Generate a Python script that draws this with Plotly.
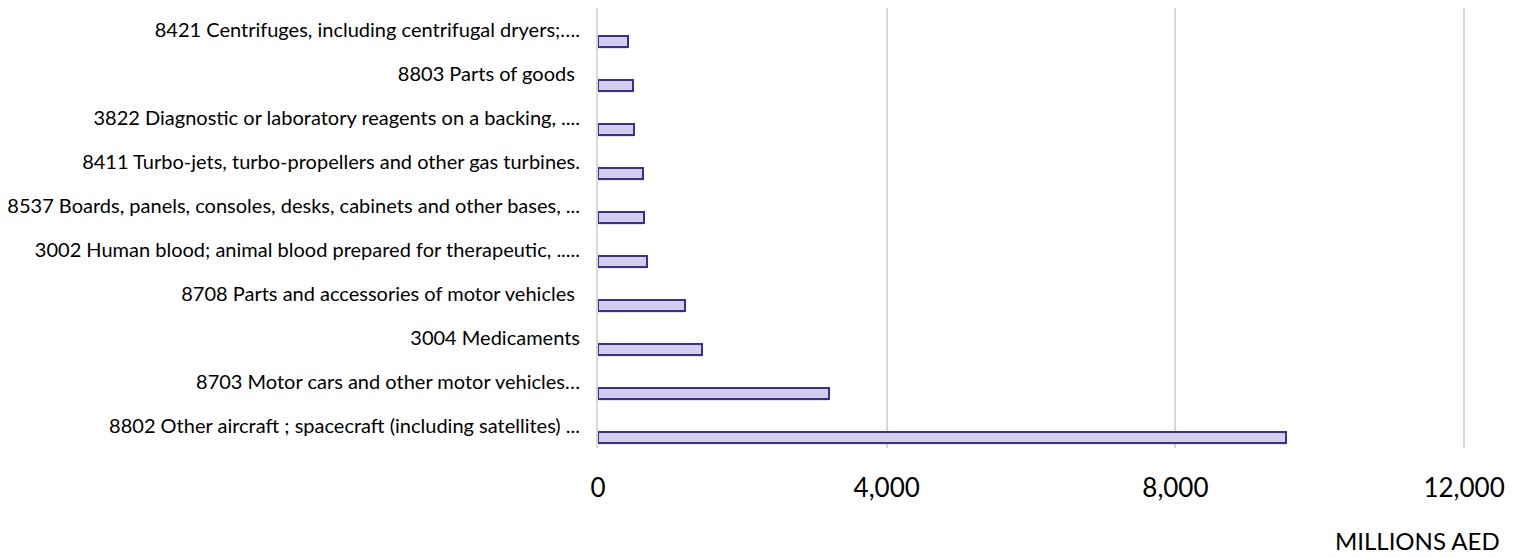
import plotly.graph_objects as go

categories = [
    "8802 Other aircraft ; spacecraft (including satellites) ...",
    "8703 Motor cars and other motor vehicles…",
    "3004 Medicaments",
    "8708 Parts and accessories of motor vehicles ",
    "3002 Human blood; animal blood prepared for therapeutic, .....",
    "8537 Boards, panels, consoles, desks, cabinets and other bases, ...",
    "8411 Turbo-jets, turbo-propellers and other gas turbines.",
    "3822 Diagnostic or laboratory reagents on a backing, ....",
    "8803 Parts of goods ",
    "8421 Centrifuges, including centrifugal dryers;….",
]
values = [9530, 3200, 1435, 1205, 679, 641, 623, 499, 481, 416]
tick_vals = [0, 4000, 8000, 12000]
tick_text = ["0", "4,000", "8,000", "12,000"]
axis_title = "MILLIONS AED"

fig = go.Figure()
# soft shadow under each bar
fig.add_trace(go.Bar(
    y=categories, x=values, orientation="h",
    width=0.27, offset=-0.44,
    marker=dict(color="rgba(0,0,0,0.10)", line=dict(width=0)),
    hoverinfo="skip", showlegend=False,
))
fig.add_trace(go.Bar(
    y=categories, x=values, orientation="h",
    width=0.265, offset=-0.395,
    marker=dict(color="#d3cdef", line=dict(color="#3e3089", width=2)),
    showlegend=False,
))

fig.update_layout(
    width=1505, height=550,
    margin=dict(l=590, r=46, t=0, b=110),
    paper_bgcolor="white", plot_bgcolor="white",
    font=dict(family="Lato, Calibri, sans-serif", color="#000000"),
    barmode="overlay",
    bargap=0,
    xaxis=dict(
        range=[0, 12040], tickvals=tick_vals, ticktext=tick_text,
        showgrid=True, gridcolor="#d9d9d9", gridwidth=1.5,
        zeroline=False, showline=False, ticks="",
        tickfont=dict(size=26, color="#000000"),
        ticklabelstandoff=22,
    ),
    yaxis=dict(
        range=[-0.5, 9.5], showgrid=False, zeroline=False,
        showline=True, linecolor="#d9d9d9", linewidth=2, ticks="",
        tickfont=dict(size=20, color="#000000"),
        ticklabelstandoff=12,
    ),
    annotations=[dict(
        text=axis_title, xref="paper", yref="paper",
        x=1.04, y=-0.21, xanchor="right", yanchor="middle",
        showarrow=False,
        font=dict(family="Liberation Sans Narrow, Lato, sans-serif", size=24, color="#000000"),
    )],
)

fig.write_html("out.html")
